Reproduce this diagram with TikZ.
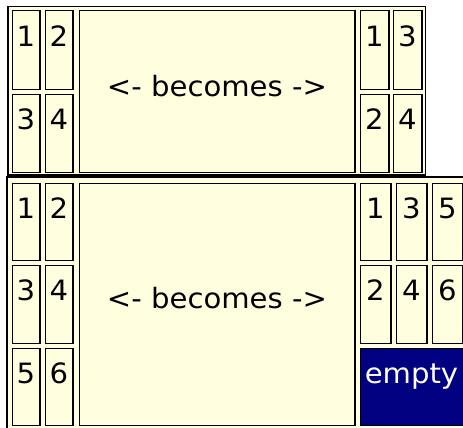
\documentclass[tikz,border=0pt]{standalone}
\usepackage{fontspec}
\setmainfont[FakeStretch=1.04]{DejaVu Sans}
\definecolor{cellbg}{HTML}{FFFFE0}
\definecolor{emptybg}{HTML}{000080}
\begin{document}
\begin{tikzpicture}[x=1pt,y=-1pt,
  cell/.style={draw=black, line width=1pt, fill=cellbg, inner sep=0pt, outer sep=0pt, anchor=north west},
  txt/.style={font=\fontsize{28}{31}\selectfont, anchor=base, inner sep=0pt}]
\useasboundingbox (0,0) rectangle (463,428);
\fill[white] (0,0) rectangle (463,428);
% table backgrounds
\fill[cellbg] (7,6) rectangle (426,177);
\fill[cellbg] (6,177) rectangle (463,428);
% ---- top table ----
\node[cell, minimum width=28pt, minimum height=78pt] (ta1) at (12,11) {};
\node[cell, minimum width=28pt, minimum height=78pt] (ta2) at (45,11) {};
\node[cell, minimum width=28pt, minimum height=78pt] (ta3) at (12,94) {};
\node[cell, minimum width=28pt, minimum height=78pt] (ta4) at (45,94) {};
\node[cell, minimum width=276pt, minimum height=161pt] (tbig) at (79,11) {};
\node[cell, minimum width=29pt, minimum height=78pt] (tb1) at (360,11) {};
\node[cell, minimum width=29pt, minimum height=78pt] (tb3) at (393,11) {};
\node[cell, minimum width=29pt, minimum height=78pt] (tb2) at (360,94) {};
\node[cell, minimum width=29pt, minimum height=78pt] (tb4) at (393,94) {};
% ---- bottom table ----
\node[cell, minimum width=28pt, minimum height=77pt] (ba1) at (12,183) {};
\node[cell, minimum width=28pt, minimum height=77pt] (ba2) at (45,183) {};
\node[cell, minimum width=28pt, minimum height=78pt] (ba3) at (12,265) {};
\node[cell, minimum width=28pt, minimum height=78pt] (ba4) at (45,265) {};
\node[cell, minimum width=28pt, minimum height=77pt] (ba5) at (12,348) {};
\node[cell, minimum width=28pt, minimum height=77pt] (ba6) at (45,348) {};
\node[cell, minimum width=276pt, minimum height=242pt] (bbig) at (79,183) {};
\node[cell, minimum width=31pt, minimum height=77pt] (bb1) at (360,183) {};
\node[cell, minimum width=31pt, minimum height=77pt] (bb3) at (396,183) {};
\node[cell, minimum width=31pt, minimum height=77pt] (bb5) at (432,183) {};
\node[cell, minimum width=31pt, minimum height=78pt] (bb2) at (360,265) {};
\node[cell, minimum width=31pt, minimum height=78pt] (bb4) at (396,265) {};
\node[cell, minimum width=31pt, minimum height=78pt] (bb6) at (432,265) {};
\node[cell, fill=emptybg, minimum width=103pt, minimum height=77pt] (bempty) at (360,348) {};
% thicker right edges
\foreach \n in {ta1,ta2,ta3,ta4,tbig,tb1,tb3,tb2,tb4,ba1,ba2,ba3,ba4,ba5,ba6,bbig,bb1,bb3,bb5,bb2,bb4,bb6}
  \draw[line width=1.8pt] ([xshift=-0.4pt]\n.north east) -- ([xshift=-0.4pt]\n.south east);
% texts
\foreach \n/\t in {ta1/1,ta2/2,ta3/3,ta4/4,tb1/1,tb3/3,tb2/2,tb4/4,ba1/1,ba2/2,ba3/3,ba4/4,ba5/5,ba6/6,bb1/1,bb3/3,bb5/5,bb2/2,bb4/4,bb6/6}
  \node[txt] (\n-t) at ([yshift=-35.5pt]\n.north) {\t};
\node[txt, text=white] (bempty-t) at ([yshift=-35.5pt]bempty.north) {empty};
\node[txt] (tbig-t) at ([yshift=-4.8pt]tbig.center) {<- becomes ->};
\node[txt] (bbig-t) at ([yshift=-4.8pt]bbig.center) {<- becomes ->};
% outer table borders
\draw[line width=1pt] (7,6.5) -- (426,6.5);
\draw[line width=1pt] (425.5,6) -- (425.5,177);
\draw[line width=2.5pt] (8,6) -- (8,177);
\draw[line width=3pt] (7,175.5) -- (426,175.5);
\draw[line width=2pt] (6,177) -- (463,177);
\draw[line width=2.5pt] (7.2,177) -- (7.2,428);
\end{tikzpicture}
\end{document}
